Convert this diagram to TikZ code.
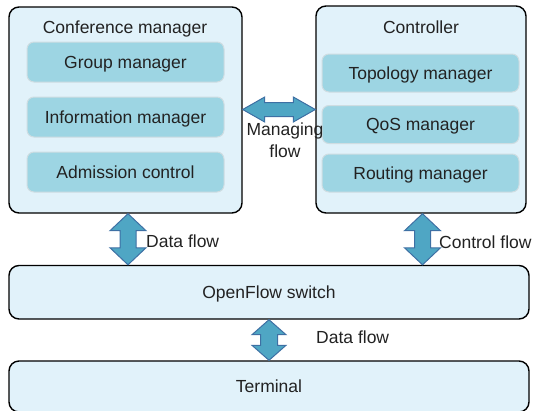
\documentclass[tikz,border=0pt]{standalone}
\usepackage{fontspec}
\setmainfont{Liberation Sans}
\usetikzlibrary{calc}

\definecolor{boxfill}{HTML}{E1F2FA}
\definecolor{subfill}{HTML}{9DD5E3}
\definecolor{subline}{HTML}{CFDDE2}
\definecolor{arrfill}{HTML}{4FA6C4}
\definecolor{arrline}{HTML}{3E70A4}
\definecolor{txt}{HTML}{222222}

\tikzset{
  lbl/.style={text=txt, font=\fontsize{17.5}{22}\selectfont, inner sep=0pt, text height=12.5pt, text depth=0pt},
  outerbox/.style={draw=black, line width=1.4pt, fill=boxfill, rounded corners=10pt, lbl},
  subbox/.style={draw=subline, line width=1pt, fill=subfill, rounded corners=7pt, minimum width=197pt, lbl},
  flowarr/.style={draw=arrline, fill=arrfill, line width=1pt, line join=miter},
}

% #1 start, #2 end, #3 head length, #4 head half width, #5 shaft half width
\newcommand{\flowarrow}[5]{%
  \draw[flowarr] (#1) -- ($(#1)!#3!(#2)!#4!90:(#2)$) -- ($(#1)!#3!(#2)!#5!90:(#2)$)
    -- ($(#2)!#3!(#1)!#5!-90:(#1)$) -- ($(#2)!#3!(#1)!#4!-90:(#1)$) -- (#2)
    -- ($(#2)!#3!(#1)!#4!90:(#1)$) -- ($(#2)!#3!(#1)!#5!90:(#1)$)
    -- ($(#1)!#3!(#2)!#5!-90:(#2)$) -- ($(#1)!#3!(#2)!#4!-90:(#2)$) -- cycle;}

\begin{document}
\begin{tikzpicture}[x=1pt,y=-1pt]
  \useasboundingbox (0,0) rectangle (535,410);

  % conference manager
  \node[outerbox, minimum width=233pt, minimum height=206pt] (conf) at (125.5,110) {};
  \node[lbl] (conftitle) at (125,27) {Conference manager};
  \node[subbox, minimum height=40pt] (group) at (125.5,62) {Group manager};
  \node[subbox, minimum height=40pt] (info) at (125.5,117) {Information manager};
  \node[subbox, minimum height=40pt] (admit) at (125.5,172) {Admission control};

  % controller
  \node[outerbox, minimum width=210pt, minimum height=207pt] (ctrl) at (421,109.5) {};
  \node[lbl] (ctrltitle) at (421,27) {Controller};
  \node[subbox, minimum height=38pt] (topo) at (420.5,73) {Topology manager};
  \node[subbox, minimum height=38pt] (qos) at (420.5,124.5) {QoS manager};
  \node[subbox, minimum height=38pt] (route) at (420.5,173) {Routing manager};

  % switch and terminal
  \node[outerbox, minimum width=520pt, minimum height=53.5pt] (switch) at (269,292.25) {OpenFlow switch};
  \node[outerbox, minimum width=520pt, minimum height=51pt] (term) at (269,386.5) {Terminal};

  % flows
  \coordinate (dfTop) at ([xshift=2.5pt]conf.south);
  \coordinate (dfBot) at (dfTop |- switch.north);
  \coordinate (cfTop) at ([xshift=1.5pt]ctrl.south);
  \coordinate (cfBot) at (cfTop |- switch.north);
  \coordinate (mfL) at ([yshift=0.5pt]conf.east);
  \coordinate (mfR) at (mfL -| ctrl.west);
  \coordinate (tfTop) at (switch.south);
  \coordinate (tfBot) at (term.north);

  \flowarrow{dfTop}{dfBot}{17pt}{18pt}{8pt}
  \flowarrow{cfTop}{cfBot}{17pt}{18pt}{8pt}
  \flowarrow{mfL}{mfR}{22pt}{12.5pt}{7pt}
  \flowarrow{tfTop}{tfBot}{15pt}{17pt}{8.5pt}

  \node[lbl, anchor=west] (dflabel) at (146,241.5) {Data flow};
  \node[lbl, anchor=west] (cflabel) at (439,242) {Control flow};
  \node[lbl, anchor=west] (tflabel) at (316,337) {Data flow};
  \node[lbl, align=center] (mflabel) at (285,151) {Managing\\flow};
\end{tikzpicture}
\end{document}
